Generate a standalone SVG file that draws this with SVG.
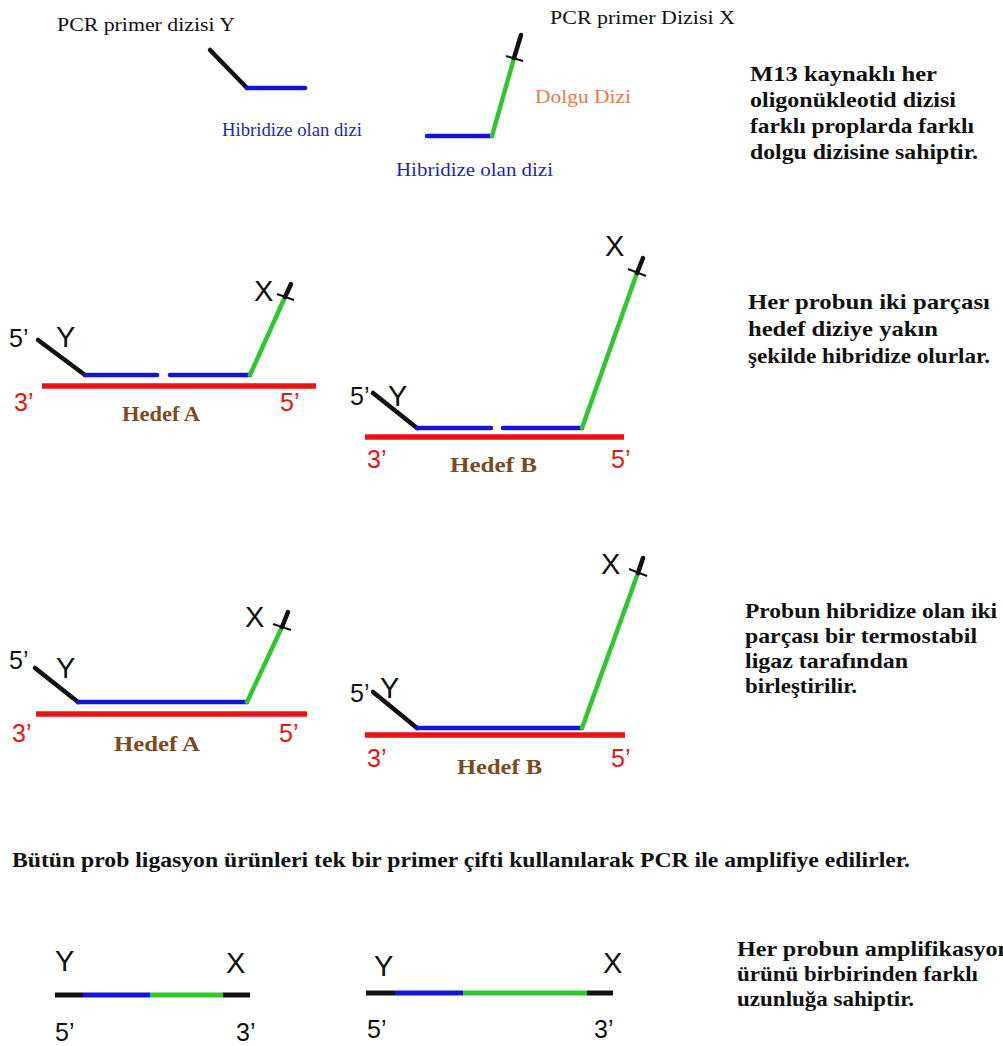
<svg xmlns="http://www.w3.org/2000/svg" width="1003" height="1046" viewBox="0 0 1003 1046">
  <style>
    .s { fill: none; stroke-width: 4.5; stroke-linecap: round; }
    .blk { stroke: #111111; }
    .blu { stroke: #1414d8; }
    .grn { stroke: #2ec82e; }
    .red { stroke: #e61414; stroke-width: 5.5; stroke-linecap: butt; }
    .flat { stroke-width: 5; stroke-linecap: butt; }
    .tick { fill: none; stroke: #111111; stroke-width: 2; }
    .lbl { font-family: "Liberation Serif", "Times New Roman", serif; font-size: 18px; }
    .note { font-family: "Liberation Serif", "Times New Roman", serif; font-size: 22px; font-weight: bold; fill: #111111; }
    .end { font-family: "Liberation Sans", Arial, sans-serif; font-size: 25px; }
    .big { font-family: "Liberation Sans", Arial, sans-serif; font-size: 29px; fill: #111111; }
    .tgt { font-family: "Liberation Serif", "Times New Roman", serif; font-size: 20px; font-weight: bold; fill: #7b4a1e; }
  </style>
  <rect width="1003" height="1046" fill="#ffffff"/>

  <!-- Probe halves before hybridisation -->
  <g id="probe-y">
    <text class="lbl" x="57" y="31" fill="#111111" textLength="178" lengthAdjust="spacingAndGlyphs">PCR primer dizisi Y</text>
    <line class="s blk" x1="210" y1="50" x2="247" y2="88"/>
    <line class="s blu" x1="247" y1="88" x2="305" y2="88"/>
    <text class="lbl" x="222" y="136" fill="#1f1fc8" textLength="140" lengthAdjust="spacingAndGlyphs">Hibridize olan dizi</text>
  </g>
  <g id="probe-x">
    <text class="lbl" x="550" y="24" fill="#111111" textLength="185" lengthAdjust="spacingAndGlyphs">PCR primer Dizisi X</text>
    <line class="s blu" x1="427" y1="136" x2="492" y2="136"/>
    <line class="s grn" x1="492" y1="136" x2="514" y2="58"/>
    <line class="s blk" x1="514" y1="58" x2="521" y2="35"/>
    <line class="tick" x1="506" y1="56" x2="523" y2="61"/>
    <text class="lbl" x="535" y="103" fill="#e8794a" textLength="96" lengthAdjust="spacingAndGlyphs">Dolgu Dizi</text>
    <text class="lbl" x="396" y="176" fill="#1f1fc8" textLength="157" lengthAdjust="spacingAndGlyphs">Hibridize olan dizi</text>
  </g>
  <g id="note-1">
    <text class="note" x="750" y="81" textLength="187" lengthAdjust="spacingAndGlyphs">M13 kaynaklı her</text>
    <text class="note" x="750" y="107" textLength="206" lengthAdjust="spacingAndGlyphs">oligonükleotid dizisi</text>
    <text class="note" x="750" y="133" textLength="224" lengthAdjust="spacingAndGlyphs">farklı proplarda farklı</text>
    <text class="note" x="750" y="159" textLength="228" lengthAdjust="spacingAndGlyphs">dolgu dizisine sahiptir.</text>
  </g>

  <!-- Hybridised probes, gap still open -->
  <g id="hyb-a">
    <line class="s red" x1="42" y1="386" x2="316" y2="386"/>
    <line class="s blk" x1="38" y1="340" x2="85" y2="375"/>
    <line class="s blu" x1="85" y1="375" x2="157" y2="375"/>
    <line class="s blu" x1="170" y1="375" x2="250" y2="375"/>
    <line class="s grn" x1="250" y1="375" x2="285" y2="297"/>
    <line class="s blk" x1="285" y1="297" x2="291" y2="284"/>
    <line class="tick" x1="277" y1="294" x2="294" y2="300"/>
    <text class="end" x="9" y="347" fill="#111111">5’</text>
    <text class="big" x="56" y="347">Y</text>
    <text class="big" x="254" y="301">X</text>
    <text class="end" x="14" y="411" fill="#e61414">3’</text>
    <text class="end" x="280" y="411" fill="#e61414">5’</text>
    <text class="tgt" x="122" y="421" textLength="78" lengthAdjust="spacingAndGlyphs">Hedef A</text>
  </g>
  <g id="hyb-b">
    <line class="s red" x1="365" y1="437" x2="624" y2="437"/>
    <line class="s blk" x1="373" y1="393" x2="417" y2="428"/>
    <line class="s blu" x1="417" y1="428" x2="491" y2="428"/>
    <line class="s blu" x1="503" y1="428" x2="582" y2="428"/>
    <line class="s grn" x1="582" y1="428" x2="637" y2="273"/>
    <line class="s blk" x1="637" y1="273" x2="643" y2="258"/>
    <line class="tick" x1="628" y1="269" x2="646" y2="276"/>
    <text class="end" x="350" y="405" fill="#111111">5’</text>
    <text class="big" x="388" y="406">Y</text>
    <text class="big" x="605" y="256">X</text>
    <text class="end" x="367" y="468" fill="#e61414">3’</text>
    <text class="end" x="611" y="468" fill="#e61414">5’</text>
    <text class="tgt" x="450" y="472" textLength="87" lengthAdjust="spacingAndGlyphs">Hedef B</text>
  </g>
  <g id="note-2">
    <text class="note" x="748" y="309" textLength="242" lengthAdjust="spacingAndGlyphs">Her probun iki parçası</text>
    <text class="note" x="748" y="336" textLength="190" lengthAdjust="spacingAndGlyphs">hedef diziye yakın</text>
    <text class="note" x="748" y="363" textLength="242" lengthAdjust="spacingAndGlyphs">şekilde hibridize olurlar.</text>
  </g>

  <!-- Ligated probes -->
  <g id="lig-a">
    <line class="s red" x1="36" y1="714" x2="307" y2="714"/>
    <line class="s blk" x1="35" y1="668" x2="78" y2="702"/>
    <line class="s blu" x1="78" y1="702" x2="247" y2="702"/>
    <line class="s grn" x1="247" y1="702" x2="282" y2="627"/>
    <line class="s blk" x1="282" y1="627" x2="288" y2="612"/>
    <line class="tick" x1="273" y1="624" x2="291" y2="630"/>
    <text class="end" x="9" y="669" fill="#111111">5’</text>
    <text class="big" x="56" y="678">Y</text>
    <text class="big" x="245" y="627">X</text>
    <text class="end" x="12" y="742" fill="#e61414">3’</text>
    <text class="end" x="279" y="742" fill="#e61414">5’</text>
    <text class="tgt" x="114" y="751" textLength="86" lengthAdjust="spacingAndGlyphs">Hedef A</text>
  </g>
  <g id="lig-b">
    <line class="s red" x1="365" y1="735" x2="625" y2="735"/>
    <line class="s blk" x1="373" y1="692" x2="417" y2="728"/>
    <line class="s blu" x1="417" y1="728" x2="582" y2="728"/>
    <line class="s grn" x1="582" y1="728" x2="638" y2="573"/>
    <line class="s blk" x1="638" y1="573" x2="643" y2="558"/>
    <line class="tick" x1="629" y1="569" x2="647" y2="576"/>
    <text class="end" x="350" y="702" fill="#111111">5’</text>
    <text class="big" x="380" y="698">Y</text>
    <text class="big" x="601" y="574">X</text>
    <text class="end" x="367" y="767" fill="#e61414">3’</text>
    <text class="end" x="611" y="767" fill="#e61414">5’</text>
    <text class="tgt" x="457" y="774" textLength="85" lengthAdjust="spacingAndGlyphs">Hedef B</text>
  </g>
  <g id="note-3">
    <text class="note" x="745" y="618" textLength="252" lengthAdjust="spacingAndGlyphs">Probun hibridize olan iki</text>
    <text class="note" x="745" y="643" textLength="232" lengthAdjust="spacingAndGlyphs">parçası bir termostabil</text>
    <text class="note" x="745" y="668" textLength="163" lengthAdjust="spacingAndGlyphs">ligaz tarafından</text>
    <text class="note" x="745" y="693" textLength="112" lengthAdjust="spacingAndGlyphs">birleştirilir.</text>
  </g>

  <g id="note-pcr">
    <text class="note" x="12" y="867" font-size="20" textLength="898" lengthAdjust="spacingAndGlyphs">Bütün prob ligasyon ürünleri tek bir primer çifti kullanılarak PCR ile amplifiye edilirler.</text>
  </g>

  <!-- Amplification products -->
  <g id="prod-a">
    <line class="s flat blk" x1="55" y1="995" x2="83" y2="995"/>
    <line class="s flat blu" x1="83" y1="995" x2="150" y2="995"/>
    <line class="s flat grn" x1="150" y1="995" x2="223" y2="995"/>
    <line class="s flat blk" x1="223" y1="995" x2="250" y2="995"/>
    <text class="big" x="55" y="971">Y</text>
    <text class="big" x="226" y="973">X</text>
    <text class="end" x="55" y="1041" fill="#111111">5’</text>
    <text class="end" x="236" y="1041" fill="#111111">3’</text>
  </g>
  <g id="prod-b">
    <line class="s flat blk" x1="366" y1="993" x2="395" y2="993"/>
    <line class="s flat blu" x1="395" y1="993" x2="463" y2="993"/>
    <line class="s flat grn" x1="463" y1="993" x2="587" y2="993"/>
    <line class="s flat blk" x1="587" y1="993" x2="613" y2="993"/>
    <text class="big" x="374" y="976">Y</text>
    <text class="big" x="603" y="973">X</text>
    <text class="end" x="367" y="1038" fill="#111111">5’</text>
    <text class="end" x="594" y="1038" fill="#111111">3’</text>
  </g>
  <g id="note-4">
    <text class="note" x="737" y="956" textLength="274" lengthAdjust="spacingAndGlyphs">Her probun amplifikasyon</text>
    <text class="note" x="737" y="981" textLength="241" lengthAdjust="spacingAndGlyphs">ürünü birbirinden farklı</text>
    <text class="note" x="737" y="1006" textLength="177" lengthAdjust="spacingAndGlyphs">uzunluğa sahiptir.</text>
  </g>
</svg>
